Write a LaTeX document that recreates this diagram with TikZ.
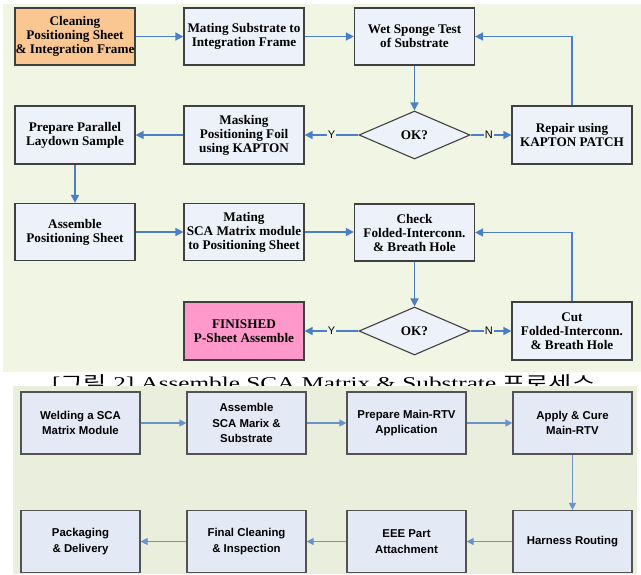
\documentclass[tikz,border=0pt]{standalone}
\usepackage{fontspec}
\setmainfont{Liberation Serif}
\newfontfamily\arialf{Liberation Sans}
\newfontfamily\cjk{Noto Sans CJK KR}
\usetikzlibrary{shapes.geometric,arrows.meta}
\definecolor{topbg}{HTML}{F1F6E4}
\definecolor{botbg}{HTML}{E9EEDD}
\definecolor{boxfill}{HTML}{EDF1FA}
\definecolor{boxfillb}{HTML}{E3E9F5}
\definecolor{orangef}{HTML}{FAC793}
\definecolor{pinkf}{HTML}{FF99CC}
\definecolor{edge}{HTML}{404040}
\definecolor{arrowc}{HTML}{4A7FC8}
\definecolor{arrowb}{HTML}{6A93CC}
\begin{document}
\begin{tikzpicture}[x=1pt,y=-1pt,
  tbox/.style={draw=edge,line width=1.2pt,fill=boxfill,minimum width=120pt,minimum height=57pt,
    inner sep=0pt,align=center,font=\bfseries\fontsize{13.2}{14}\selectfont},
  dia/.style={draw=edge,line width=1.1pt,fill=boxfill,diamond,aspect=2.3,minimum width=111pt,
    minimum height=48pt,inner sep=0pt,font=\bfseries\fontsize{13.2}{14}\selectfont},
  bbox/.style={draw=edge!90,line width=1.2pt,fill=boxfillb,minimum width=119pt,minimum height=62pt,
    inner sep=0pt,align=center,font=\arialf\bfseries\fontsize{11.4}{15.5}\selectfont},
  tarr/.style={draw=arrowc,line width=1.5pt,-{Triangle[length=8pt,width=8pt]}},
  barr/.style={draw=arrowb,line width=1.2pt,-{Triangle[length=7pt,width=7pt]}},
  yn/.style={fill=topbg,inner sep=1pt,font=\arialf\fontsize{11}{11}\selectfont}]
\useasboundingbox (0,0) rectangle (641,574);
% top panel
\fill[topbg] (3,4) rectangle (641,372);
\node[tbox,fill=orangef] (clean) at (75,36.5) {Cleaning\\Positioning Sheet\\\& Integration Frame};
\node[tbox] (mate) at (244,36.5) {Mating Substrate to\\Integration Frame};
\node[tbox] (wet) at (414.5,36.5) {Wet Sponge Test\\of Substrate};
\node[dia] (ok1) at (414.5,135) {OK?};
\node[tbox,minimum height=58pt] (repair) at (572,135) {Repair using\\KAPTON PATCH};
\node[tbox,minimum height=58pt] (mask) at (244,135) {Masking\\Positioning Foil\\using KAPTON};
\node[tbox,minimum height=58pt] (prep) at (75,135) {Prepare Parallel\\Laydown Sample};
\node[tbox] (asm) at (75,232) {Assemble\\Positioning Sheet};
\node[tbox] (matesca) at (244,232) {Mating\\SCA Matrix module\\to Positioning Sheet};
\node[tbox] (check) at (414.5,232.5) {Check\\Folded-Interconn.\\\& Breath Hole};
\node[dia] (ok2) at (414.5,331) {OK?};
\node[tbox,minimum height=58pt] (cut) at (572,331) {Cut\\Folded-Interconn.\\\& Breath Hole};
\node[tbox,minimum height=58pt,fill=pinkf] (fin) at (244,331) {FINISHED\\P-Sheet Assemble};
\draw[tarr] (clean) -- (mate);
\draw[tarr] (mate) -- (wet);
\draw[tarr] (wet) -- (ok1);
\draw[tarr] (ok1) -- node[yn,pos=0.45]{N} (repair);
\draw[tarr] (repair.north) |- (wet.east);
\draw[tarr] (ok1) -- node[yn,pos=0.5]{Y} (mask);
\draw[tarr] (mask) -- (prep);
\draw[tarr] (prep) -- (asm);
\draw[tarr] (asm) -- (matesca);
\draw[tarr] (matesca.east) -- (check.west |- matesca.east);
\draw[tarr] (check) -- (ok2);
\draw[tarr] (ok2) -- node[yn,pos=0.45]{N} (cut);
\draw[tarr] (cut.north) |- (check.east);
\draw[tarr] (ok2) -- node[yn,pos=0.5]{Y} (fin);
% caption
\node[anchor=base west,inner sep=0pt] (cap) at (52,389) {\resizebox{543pt}{\height}{\fontsize{18}{18}\selectfont [{\cjk 그림} 2] Assemble SCA Matrix \& Substrate {\cjk 프로세스}}};
% bottom panel
\fill[botbg] (13,386) rectangle (637,574);
\node[bbox] (weld) at (80.5,423) {Welding a SCA\\Matrix Module};
\node[bbox] (asca) at (246.5,423) {Assemble\\SCA Marix \&\\Substrate};
\node[bbox] (prtv) at (406.5,423) {Prepare Main-RTV\\Application};
\node[bbox] (apply) at (572.5,423) {Apply \& Cure\\Main-RTV};
\node[bbox] (harness) at (572.5,541.5) {Harness Routing};
\node[bbox] (eee) at (406.5,541.5) {EEE Part\\Attachment};
\node[bbox] (final) at (246.5,541.5) {Final Cleaning\\\& Inspection};
\node[bbox] (pack) at (80.5,541.5) {Packaging\\\& Delivery};
\draw[barr] (weld) -- (asca);
\draw[barr] (asca) -- (prtv);
\draw[barr] (prtv) -- (apply);
\draw[barr] (apply) -- (harness);
\draw[barr] (harness) -- (eee);
\draw[barr] (eee) -- (final);
\draw[barr] (final) -- (pack);
\end{tikzpicture}
\end{document}
